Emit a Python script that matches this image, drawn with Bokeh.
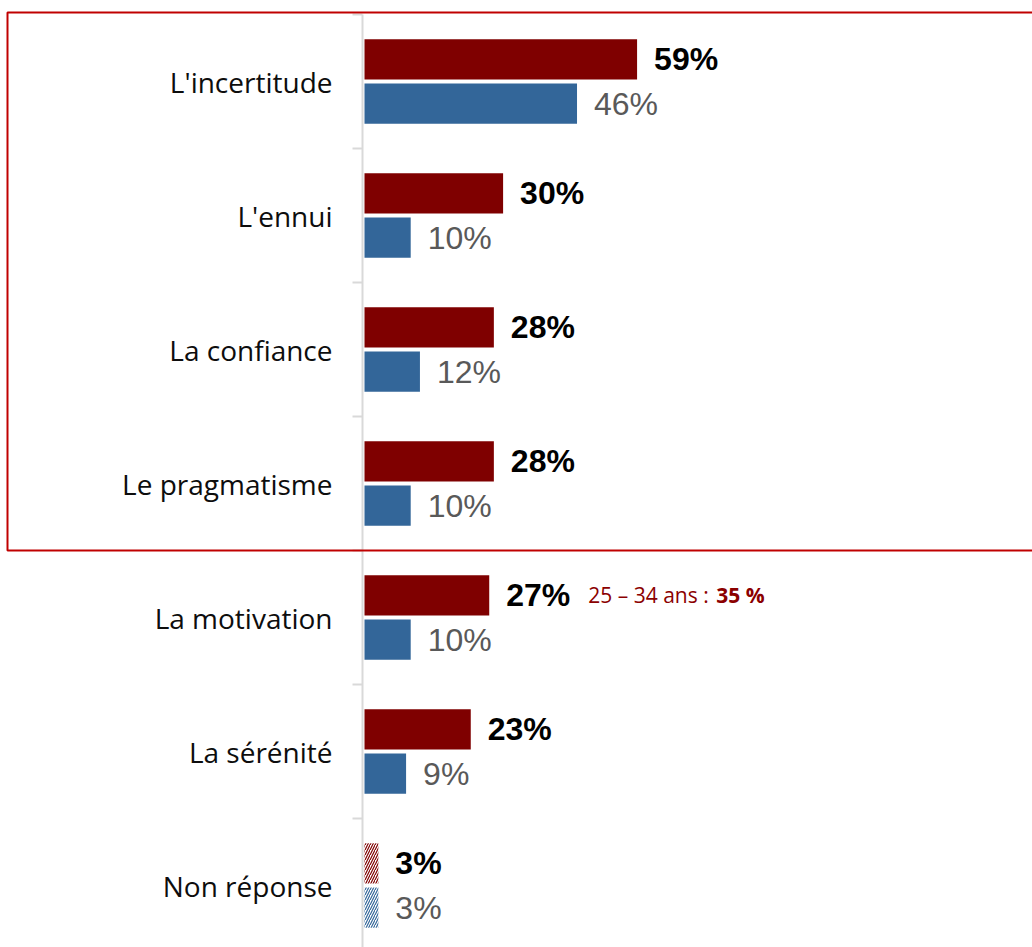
from bokeh.plotting import figure
from bokeh.models import Range1d, ColumnDataSource, BoxAnnotation
from bokeh.core.properties import value
from bokeh.embed import file_html
from bokeh.resources import INLINE

categories = ["L'incertitude", "L'ennui", "La confiance", "Le pragmatisme",
              "La motivation", "La sérénité", "Non réponse"]
red_values = [59, 30, 28, 28, 27, 23, 3]
blue_values = [46, 10, 12, 10, 10, 9, 3]
red_labels = ["59%", "30%", "28%", "28%", "27%", "23%", "3%"]
blue_labels = ["46%", "10%", "12%", "10%", "10%", "9%", "3%"]
note_category = "La motivation"
note_text = "25 – 34 ans : "
note_bold = "35 %"
no_answer = "Non réponse"
highlight_rows = 4  # first four categories framed

RED = "#7f0000"
BLUE = "#336699"
GRID = "#d9d9d9"

n = len(categories)
centers = [n - 0.5 - i for i in range(n)]
boundaries = list(range(0, n + 1))
off = 0.165
bh = 0.30

W, H = 1032, 947
zero_px = 364
top_px = 14
px_per_unit = 4.62
row_px = 134.0
ax = -2 / px_per_unit  # axis line sits just left of the bars

y_end = n + top_px / row_px
p = figure(width=W, height=H, output_backend="svg", toolbar_location=None,
           x_axis_type=None, y_axis_type=None,
           min_border_left=0, min_border_right=0, min_border_top=0, min_border_bottom=0,
           x_range=Range1d(-zero_px / px_per_unit, (W - zero_px) / px_per_unit),
           y_range=Range1d(y_end - H / row_px, y_end))
p.outline_line_color = None
p.xgrid.visible = False
p.ygrid.visible = False
p.background_fill_color = "white"
p.border_fill_color = "white"

# category axis line and boundary ticks
p.segment(x0=[ax], y0=[0], x1=[ax], y1=[n], line_color=GRID, line_width=2)
tick_len = 10 / px_per_unit
p.segment(x0=[ax - tick_len] * len(boundaries), y0=boundaries, x1=[ax] * len(boundaries),
          y1=boundaries, line_color=GRID, line_width=2)

# category labels
cs = ColumnDataSource(dict(x=[0] * n, y=centers, t=categories))
p.text(x="x", y="y", text="t", source=cs, x_offset=-32, text_align="right",
       text_baseline="middle", text_font=value("Open Sans"), text_font_size="28px",
       text_color="#0d0d0d")

solid = [i for i, c in enumerate(categories) if c != no_answer]
hatch = [i for i, c in enumerate(categories) if c == no_answer]

def src(idx, vals, labels, sign):
    return ColumnDataSource(dict(
        y=[centers[i] + sign * off for i in idx],
        v=[vals[i] for i in idx],
        t=[labels[i] for i in idx],
    ))

rs = src(solid, red_values, red_labels, 1)
bs = src(solid, blue_values, blue_labels, -1)
rh = src(hatch, red_values, red_labels, 1)
bhs = src(hatch, blue_values, blue_labels, -1)

p.hbar(y="y", right="v", left=0, height=bh, source=rs, fill_color=RED, line_color=None)
p.hbar(y="y", right="v", left=0, height=bh, source=bs, fill_color=BLUE, line_color=None)
p.hbar(y="y", right="v", left=0, height=bh, source=rh, fill_color="white", line_color=None,
       hatch_pattern="right_diagonal_line", hatch_color=RED, hatch_weight=1.2, hatch_scale=5)
p.hbar(y="y", right="v", left=0, height=bh, source=bhs, fill_color="white", line_color=None,
       hatch_pattern="right_diagonal_line", hatch_color=BLUE, hatch_weight=1.2, hatch_scale=5)

for s in (rs, rh):
    p.text(x="v", y="y", text="t", source=s, x_offset=17, text_baseline="middle",
           text_font=value("Liberation Sans"), text_font_size="32px", text_font_style="bold",
           text_color="black")
for s in (bs, bhs):
    p.text(x="v", y="y", text="t", source=s, x_offset=17, text_baseline="middle",
           text_font=value("Liberation Sans"), text_font_size="32px", text_font_style="normal",
           text_color="#595959")

ni = categories.index(note_category)
ns = ColumnDataSource(dict(x=[red_values[ni]], y=[centers[ni] + off], t=[note_text], b=[note_bold]))
p.text(x="x", y="y", text="t", source=ns, x_offset=99, text_baseline="middle",
       text_font=value("Open Sans"), text_font_size="21px", text_color="#8b0000")
p.text(x="x", y="y", text="b", source=ns, x_offset=227, text_baseline="middle",
       text_font=value("Open Sans"), text_font_size="21px", text_font_style="bold",
       text_color="#8b0000")

box = BoxAnnotation(left=-(zero_px - 7) / px_per_unit, right=(W + 20 - zero_px) / px_per_unit,
                    top=n + 2 / row_px, bottom=n - highlight_rows,
                    fill_color=None, fill_alpha=0, line_color="#c00000", line_alpha=1.0,
                    line_width=2)
p.add_layout(box)

open("out.html", "w").write(file_html(p, INLINE))
